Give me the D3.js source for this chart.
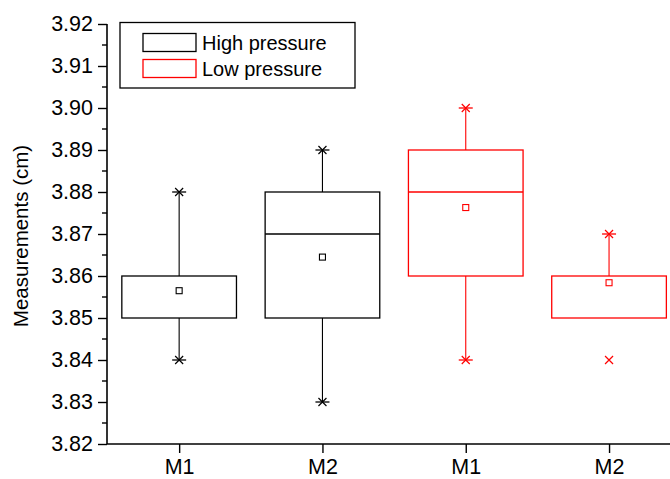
<!DOCTYPE html>
<html>
<head>
<meta charset="utf-8">
<script src="https://cdn.jsdelivr.net/npm/d3@7"></script>
<style>
  body { margin: 0; background: #fff; }
  svg { display: block; font-family: "Liberation Sans", Arial, sans-serif; }
</style>
</head>
<body>
<svg id="chart" width="670" height="479"></svg>
<script>
// box data, one entry per box
const positions = [1, 2, 3, 4];
const tickLabels = ["M1", "M2", "M1", "M2"];
const groups = ["High pressure", "High pressure", "Low pressure", "Low pressure"];
const q1 = [3.85, 3.85, 3.86, 3.85];
const median = [3.85, 3.87, 3.88, 3.85];
const q3 = [3.86, 3.88, 3.89, 3.86];
const whiskerLow = [3.84, 3.83, 3.84, 3.85];
const whiskerHigh = [3.88, 3.89, 3.90, 3.87];
const minVals = [3.84, 3.83, 3.84, 3.84];
const maxVals = [3.88, 3.89, 3.90, 3.87];
const means = [3.8565, 3.8645, 3.8763, 3.8584];
const yTicks = [3.82, 3.83, 3.84, 3.85, 3.86, 3.87, 3.88, 3.89, 3.90, 3.91, 3.92];
const legendItems = ["High pressure", "Low pressure"];

const colors = { "High pressure": "#000000", "Low pressure": "#ff0000" };

const svg = d3.select("#chart");
const plotLeft = 107, plotBottom = 444, plotTop = 24;

const x = d3.scaleLinear().domain([0.5, 4.5]).range([plotLeft + 0.5, plotLeft + 0.5 + 573.2]);
const y = d3.scaleLinear().domain([3.82, 3.92]).range([plotBottom, plotTop]);

const boxW = x(1.4) - x(0.6);

// y axis
const yAxis = svg.append("g")
  .attr("transform", `translate(${plotLeft},0)`)
  .call(d3.axisLeft(y).tickValues(yTicks).tickFormat(d3.format(".2f")).tickSize(9).tickPadding(5));
yAxis.select(".domain").attr("stroke-width", 1.6).attr("d", `M0,${plotBottom}V${plotTop}`);
yAxis.selectAll(".tick line").attr("stroke-width", 1.4);
yAxis.selectAll(".tick text").attr("font-size", 21.5).attr("fill", "#000");

// minor ticks
const minor = d3.range(0, 10).map(i => 3.825 + i * 0.01);
svg.append("g").selectAll("line").data(minor).enter().append("line")
  .attr("x1", plotLeft - 5).attr("x2", plotLeft)
  .attr("y1", d => y(d)).attr("y2", d => y(d))
  .attr("stroke", "#000").attr("stroke-width", 1.4);

// x axis
const xAxis = svg.append("g")
  .attr("transform", `translate(0,${plotBottom})`)
  .call(d3.axisBottom(x).tickValues(positions).tickFormat((d, i) => tickLabels[i]).tickSize(9).tickPadding(6));
xAxis.select(".domain").attr("stroke-width", 1.6).attr("d", `M${plotLeft},0H670`);
xAxis.selectAll(".tick line").attr("stroke-width", 1.4);
xAxis.selectAll(".tick text").attr("font-size", 21.5).attr("fill", "#000");

// y title
svg.append("text")
  .attr("transform", `translate(28,236) rotate(-90)`)
  .attr("text-anchor", "middle")
  .attr("font-size", 20.5)
  .text("Measurements (cm)");

// boxes
const boxes = svg.append("g").selectAll("g").data(positions).enter().append("g")
  .attr("stroke", (d, i) => colors[groups[i]])
  .attr("fill", "none")
  .attr("stroke-width", 1.3);

boxes.each(function (p, i) {
  const g = d3.select(this);
  const cx = x(p);
  // whiskers
  if (whiskerHigh[i] > q3[i]) {
    g.append("line").attr("x1", cx).attr("x2", cx).attr("y1", y(q3[i])).attr("y2", y(whiskerHigh[i])).attr("stroke-width", 1.1);
    g.append("line").attr("x1", cx - 7).attr("x2", cx + 7).attr("y1", y(whiskerHigh[i])).attr("y2", y(whiskerHigh[i]));
  }
  if (whiskerLow[i] < q1[i]) {
    g.append("line").attr("x1", cx).attr("x2", cx).attr("y1", y(q1[i])).attr("y2", y(whiskerLow[i])).attr("stroke-width", 1.1);
    g.append("line").attr("x1", cx - 7).attr("x2", cx + 7).attr("y1", y(whiskerLow[i])).attr("y2", y(whiskerLow[i]));
  }
  // box
  g.append("rect")
    .attr("x", cx - boxW / 2).attr("y", y(q3[i]))
    .attr("width", boxW).attr("height", y(q1[i]) - y(q3[i]))
    .attr("fill", "#fff");
  // median line, skipped when it sits on a box edge
  if (median[i] !== q1[i] && median[i] !== q3[i]) {
    g.append("line")
      .attr("x1", cx - boxW / 2).attr("x2", cx + boxW / 2)
      .attr("y1", y(median[i])).attr("y2", y(median[i]));
  }
  // mean
  g.append("rect")
    .attr("x", cx - 3).attr("y", y(means[i]) - 3)
    .attr("width", 6).attr("height", 6)
    .attr("stroke-width", 1.1);
  // min / max markers
  [minVals[i], maxVals[i]].forEach(v => {
    const yy = y(v);
    g.append("path")
      .attr("d", `M${cx - 4},${yy - 4}L${cx + 4},${yy + 4}M${cx - 4},${yy + 4}L${cx + 4},${yy - 4}`)
      .attr("stroke-width", 1.2);
  });
});

// legend
const legend = svg.append("g");
legend.append("rect")
  .attr("x", 120).attr("y", 22.5).attr("width", 235).attr("height", 65.5)
  .attr("fill", "#fff").attr("stroke", "#000").attr("stroke-width", 1.3);
legendItems.forEach((name, i) => {
  legend.append("rect")
    .attr("x", 143).attr("y", 33.5 + i * 26).attr("width", 53).attr("height", 18)
    .attr("fill", "none").attr("stroke", colors[name]).attr("stroke-width", 1.3);
  legend.append("text")
    .attr("x", 202).attr("y", 50 + i * 25.5)
    .attr("font-size", 20)
    .text(name);
});
</script>
</body>
</html>
